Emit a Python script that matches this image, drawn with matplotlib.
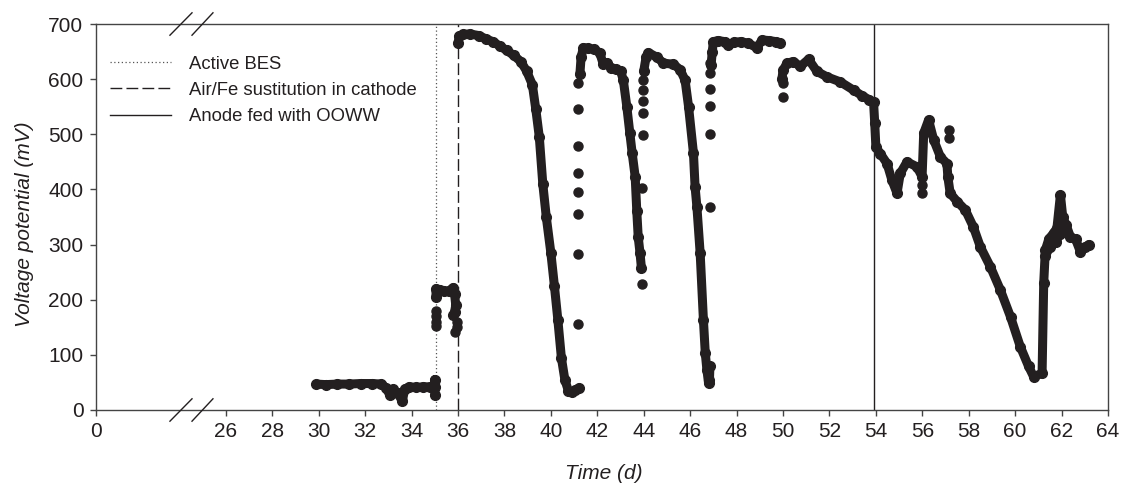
import numpy as np
import matplotlib
matplotlib.use('Agg')
import matplotlib.pyplot as plt

plt.rcParams['font.family'] = ['Liberation Sans', 'DejaVu Sans']

ink = '#231f20'

# x position where the "0" tick sits on the broken axis (axis jumps 0 -> 26)
x_zero = 20.4

# continuous stretches of the voltage record (time in d, voltage in mV)
t_a = [29.9, 30.3, 30.8, 31.3, 31.8, 32.3, 32.7, 32.9, 33.05, 33.2, 33.4, 33.6, 33.7, 33.9, 34.2, 34.5, 34.8, 35.0, 35.0, 35.0]
v_a = [47, 46, 47, 47, 48, 48, 47, 40, 28, 38, 30, 16, 38, 42, 41, 42, 42, 42, 55, 27]

t_b = [35.05, 35.05, 35.2, 35.4, 35.6, 35.8, 35.85, 35.9, 35.85, 35.8]
v_b = [205, 220, 218, 215, 216, 222, 210, 190, 178, 172]

t_c = [36.0, 36.05, 36.2, 36.5, 36.9, 37.2, 37.5, 37.8, 38.1, 38.4, 38.7, 38.95, 39.2, 39.35, 39.5,
       39.65, 39.8, 40.0, 40.15, 40.3, 40.45, 40.6, 40.75, 40.9, 41.05, 41.2]
v_c = [665, 678, 681, 682, 679, 673, 668, 660, 652, 643, 632, 615, 590, 545, 495,
       410, 350, 284, 225, 163, 95, 55, 35, 32, 36, 40]

t_d = [41.25, 41.3, 41.4, 41.6, 41.85, 42.1, 42.25, 42.4, 42.6, 42.8, 43.0, 43.12, 43.27, 43.4, 43.5,
       43.63, 43.7, 43.76, 43.84, 43.9]
v_d = [610, 640, 657, 656, 654, 648, 628, 630, 620, 618, 615, 598, 550, 502, 466,
       423, 360, 314, 284, 257]

t_e = [44.0, 44.1, 44.2, 44.56, 44.85, 45.28, 45.57, 45.78, 45.93, 46.14, 46.21, 46.29, 46.43, 46.57,
       46.65, 46.72, 46.79, 46.83, 46.85]
v_e = [615, 640, 648, 640, 629, 627, 617, 598, 550, 466, 405, 368, 284, 163,
       103, 73, 49, 55, 80]

t_f = [46.9, 46.95, 47.0, 47.2, 47.5, 47.65, 47.9, 48.2, 48.5, 48.87, 49.1, 49.4, 49.7, 49.88]
v_f = [625, 650, 668, 670, 668, 662, 667, 668, 665, 657, 671, 670, 668, 666]

t_g = [49.95, 50.0, 50.17, 50.45, 50.74, 51.1, 51.46, 51.9, 52.47, 53.04, 53.4, 53.7, 53.9, 53.95, 54.0,
       54.19, 54.48, 54.69, 54.91, 55.05, 55.34, 55.77, 55.99, 56.06, 56.27, 56.49, 56.78, 57.06, 57.1,
       57.2, 57.5, 57.85, 58.2, 58.5, 58.93, 59.36, 59.8, 60.22, 60.58, 60.8, 61.16, 61.23, 61.3,
       61.45, 61.66, 61.8, 61.95, 62.05, 62.2, 62.38, 62.6, 62.81, 63.0, 63.17]
v_g = [600, 616, 629, 632, 623, 636, 614, 604, 595, 580, 570, 563, 558, 520, 477,
       465, 447, 417, 393, 429, 450, 441, 423, 502, 526, 490, 459, 447, 423,
       393, 378, 363, 332, 296, 260, 218, 169, 115, 79, 60, 67, 230, 290,
       310, 321, 330, 390, 350, 335, 314, 310, 287, 295, 300]

# lower branch of the recovery near day 61.5
t_h = [61.3, 61.5, 61.75, 61.95]
v_h = [280, 295, 305, 320]

# scattered single readings during the transitions
t_dots = [35.05, 35.05, 35.05, 35.05, 35.95, 35.95, 35.85,
          41.17, 41.17, 41.17, 41.17, 41.17, 41.17, 41.17, 41.17,
          43.93, 43.93,
          43.97, 43.97, 43.97, 43.97, 43.97,
          46.86, 46.86, 46.86, 46.86, 46.86, 46.86,
          50.0, 50.0,
          56.0, 56.0, 57.15, 57.15]
v_dots = [180, 170, 160, 152, 160, 150, 142,
          156, 283, 355, 396, 430, 479, 546, 593,
          228, 402,
          499, 539, 560, 580, 598,
          368, 500, 551, 582, 611, 629,
          568, 593,
          408, 393, 508, 493]

t_active = 35.05
t_air_fe = 36.0
t_ooww = 53.9

x_ticks = [x_zero] + list(range(26, 66, 2))
x_labels = ['0'] + [str(v) for v in range(26, 66, 2)]
y_ticks = list(range(0, 800, 100))

fig = plt.figure(figsize=(11.25, 4.84), dpi=100)
ax = fig.add_axes([0.0853, 0.1529, 0.8996, 0.7975])

ax.axvline(t_active, color='#555555', lw=0.9, linestyle=(0, (1, 2)), label='Active BES')
ax.axvline(t_air_fe, color=ink, lw=1.0, linestyle=(0, (8.5, 3)), label='Air/Fe sustitution in cathode')
ax.axvline(t_ooww, color=ink, lw=1.0, label='Anode fed with OOWW')

for tt, vv in [(t_a, v_a), (t_b, v_b), (t_c, v_c), (t_d, v_d), (t_e, v_e), (t_f, v_f), (t_g, v_g), (t_h, v_h)]:
    ax.plot(tt, vv, color=ink, lw=6.5, marker='o', markersize=7, solid_capstyle='round',
            solid_joinstyle='round', zorder=3)
ax.plot(t_dots, v_dots, color=ink, linestyle='None', marker='o', markersize=6.5, zorder=3)

ax.set_xlim(x_zero, 64)
ax.set_ylim(0, 700)
ax.set_xticks(x_ticks)
ax.set_xticklabels(x_labels)
ax.set_yticks(y_ticks)

for s in ax.spines.values():
    s.set_color('#444444')
    s.set_linewidth(1.0)
ax.tick_params(direction='out', length=4, width=1, color='#444444', labelsize=15, labelcolor=ink, pad=5)

ax.set_xlabel('Time (d)', fontsize=15, style='italic', color=ink)
ax.set_ylabel('Voltage potential (mV)', fontsize=15, style='italic', color=ink)
ax.xaxis.set_label_coords(0.502, -0.14)
ax.yaxis.set_label_coords(-0.061, 0.482)

# axis break marks on the bottom and top spines
for x0, x1 in [(0.0731, 0.0949), (0.0949, 0.1156)]:
    for yc in (0.0, 1.0):
        ax.plot([x0, x1], [yc - 0.029, yc + 0.029], color=ink, lw=1.0,
                transform=ax.transAxes, clip_on=False, zorder=5)

ax.legend(loc='upper left', bbox_to_anchor=(0.0138, 0.918), frameon=False, fontsize=13.3,
          handlelength=3.3, handletextpad=1.0, labelspacing=0.5, borderpad=0, borderaxespad=0,
          labelcolor=ink)

plt.savefig('out.png', dpi=100)
